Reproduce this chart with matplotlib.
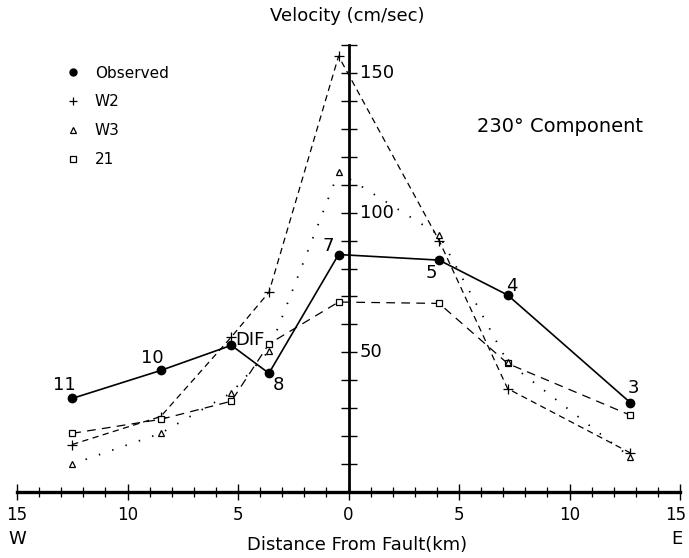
import matplotlib
matplotlib.use("Agg")
import matplotlib.pyplot as plt
import matplotlib.transforms as mtransforms
from matplotlib.lines import Line2D
import numpy as np

# Station distances from the fault (km, negative = west)
distance = [-12.5, -8.5, -5.3, -3.6, -0.45, 4.1, 7.2, 12.75]
stations = ["11", "10", "DIF", "8", "7", "5", "4", "3"]

# Peak velocities (cm/sec), 230 degree component
observed = [33.5, 43.5, 52.5, 42.5, 85.0, 83.0, 70.5, 32.0]
w2 = [17.0, 27.0, 55.5, 71.5, 156.0, 90.0, 37.0, 14.0]
w3 = [10.0, 21.0, 35.5, 50.5, 114.5, 92.0, 46.5, 12.5]
m21 = [21.0, 26.0, 32.5, 53.0, 68.0, 67.5, 46.0, 27.5]

x_ticks_major = [-15, -10, -5, 0, 5, 10, 15]
y_labelled = [50, 100, 150]

FONT = "DejaVu Sans"
plt.rcParams["font.family"] = [FONT]

fig = plt.figure(figsize=(6.89, 5.58), dpi=100)
ax = fig.add_axes([17 / 689, 66 / 558, 663 / 689, 447 / 558])
ax.set_xlim(-15, 15)
ax.set_ylim(0, 160)

# Cross-shaped axes through the origin
for side in ("top", "right"):
    ax.spines[side].set_visible(False)
ax.spines["left"].set_position(("data", 0))
ax.spines["bottom"].set_position(("data", 0))
ax.spines["left"].set_linewidth(2.0)
ax.spines["bottom"].set_linewidth(2.4)

ax.set_xticks(x_ticks_major)
ax.set_xticks(np.arange(-15, 16, 1), minor=True)
ax.set_xticklabels([str(abs(v)) for v in x_ticks_major])
ax.tick_params(axis="x", which="major", direction="inout", length=12, width=1.0,
               labelsize=12, pad=4)
ax.tick_params(axis="x", which="minor", direction="inout", length=7, width=0.9)

# nudge the outermost east label so it stays inside the figure
last = ax.get_xticklabels()[-1]
last.set_transform(last.get_transform() +
                   mtransforms.ScaledTranslation(-4 / 100, 0, fig.dpi_scale_trans))

ax.set_yticks(np.arange(10, 161, 10))
ax.set_yticklabels([])
ax.tick_params(axis="y", which="major", direction="inout", length=11, width=1.0)
for v in y_labelled:
    ax.text(0.5, v, str(v), fontsize=13, ha="left", va="center")

ax.text(-15, -13.5, "W", fontsize=13, ha="center", va="top")
ax.text(14.85, -13.5, "E", fontsize=13, ha="center", va="top")

fig.text(347 / 689, 1 - 16 / 558, "Velocity (cm/sec)", fontsize=13,
         ha="center", va="center")
fig.text(357 / 689, 1 - 545 / 558, "Distance From Fault(km)", fontsize=13,
         ha="center", va="center")
fig.text(560 / 689, 1 - 127 / 558, "230° Component", fontsize=14,
         ha="center", va="center")

# Model curves
ax.plot(distance, w2, color="black", lw=0.9, ls=(0, (5, 3.5)), marker="+",
        ms=7, mew=0.9, clip_on=False)
ax.plot(distance, m21, color="black", lw=0.9, ls=(0, (7, 5)), marker="s",
        ms=5, mfc="white", mew=0.9, clip_on=False)
ax.plot(distance, w3, color="black", lw=1.3, ls=(0, (0.8, 7)), marker="^",
        ms=5, mfc="white", mew=0.9, clip_on=False)
# Observed
ax.plot(distance, observed, color="black", lw=1.2, marker="o", ms=6,
        mfc="black", clip_on=False, zorder=5)

# Station names beside the observed values
offsets = [(-8, 13), (-8, 12), (19, 5), (9, -12), (-10, 9), (-8, -13),
           (4, 9), (3, 15)]
for xd, yd, name, off in zip(distance, observed, stations, offsets):
    ax.annotate(name, (xd, yd), xytext=off, textcoords="offset pixels",
                fontsize=13, ha="center", va="center")

handles = [
    Line2D([], [], ls="none", marker="o", ms=5, color="black"),
    Line2D([], [], ls="none", marker="+", ms=6, color="black", mew=0.9),
    Line2D([], [], ls="none", marker="^", ms=5, mfc="white", color="black", mew=0.9),
    Line2D([], [], ls="none", marker="s", ms=5, mfc="white", color="black", mew=0.9),
]
fig.legend(handles, ["Observed", "W2", "W3", "21"], loc="upper left",
           bbox_to_anchor=(58 / 689, 1 - 58 / 558), frameon=False,
           fontsize=11, handlelength=1.0, handletextpad=0.9,
           labelspacing=0.9, borderpad=0)

fig.savefig("out.png", dpi=100)
